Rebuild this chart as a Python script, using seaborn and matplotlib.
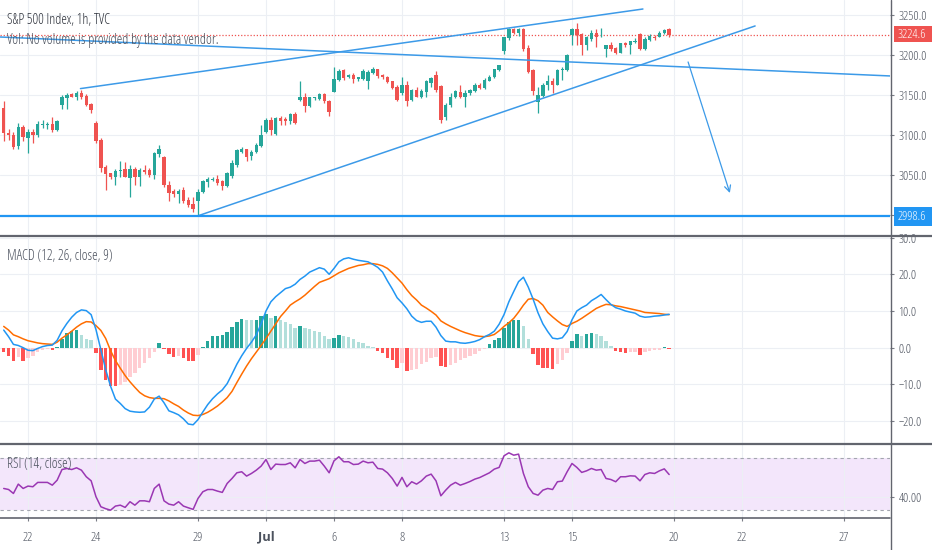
import numpy as np
import matplotlib
matplotlib.use("Agg")
import matplotlib.pyplot as plt
from matplotlib import font_manager as fm
import seaborn as sns
from matplotlib.patches import Rectangle
from matplotlib.lines import Line2D

# ---------------- data (hourly bars, index 0 = last bars of Jun 19) ----------------
opens = [3134, 3103, 3100, 3086, 3110, 3096, 3104, 3100, 3113, 3113,
         3114, 3106, 3137, 3146, 3151, 3147, 3153, 3149, 3139, 3115,
         3094, 3060, 3052, 3048, 3055, 3057, 3046, 3058, 3048, 3056,
         3056, 3050, 3076, 3073, 3038, 3030, 3026, 3031, 3019, 3014,
         3017, 3029, 3041, 3044, 3045, 3042, 3036, 3049, 3063, 3079,
         3082, 3074, 3079, 3086, 3104, 3119, 3101, 3121, 3120, 3117,
         3126, 3144, 3147, 3136, 3146, 3145, 3151, 3143, 3154, 3169,
         3181, 3172, 3175, 3170, 3170, 3167, 3178, 3182, 3175, 3173,
         3167, 3160, 3152, 3162, 3144, 3156, 3148, 3154, 3165, 3175,
         3161, 3123, 3138, 3147, 3154, 3148, 3152, 3155, 3162, 3159,
         3167, 3172, 3181, 3205, 3221, 3232, 3227, 3232, 3209, 3181,
         3141, 3149, 3162, 3167, 3162, 3181, 3181, 3225, 3233, 3226,
         3213, 3220, 3228, 3227, 3208, 3212, 3209, 3203, 3215, 3212,
         3216, 3226, 3208, 3219, 3223, 3223, 3228, 3232]
highs = [3142, 3108, 3104, 3115, 3113, 3107, 3107, 3117, 3119, 3116,
         3122, 3119, 3150, 3152, 3152, 3155, 3156, 3151, 3140, 3117,
         3096, 3063, 3053, 3057, 3067, 3066, 3062, 3060, 3059, 3062,
         3059, 3079, 3087, 3074, 3042, 3033, 3033, 3035, 3022, 3023,
         3033, 3044, 3047, 3048, 3050, 3044, 3054, 3069, 3083, 3085,
         3083, 3081, 3090, 3113, 3121, 3123, 3123, 3124, 3123, 3128,
         3129, 3167, 3153, 3148, 3148, 3153, 3153, 3144, 3185, 3182,
         3183, 3176, 3177, 3173, 3182, 3181, 3185, 3183, 3176, 3174,
         3168, 3162, 3173, 3168, 3157, 3160, 3157, 3169, 3173, 3180,
         3162, 3140, 3152, 3156, 3163, 3156, 3158, 3165, 3165, 3171,
         3175, 3183, 3188, 3223, 3234, 3234, 3234, 3234, 3213, 3183,
         3160, 3165, 3175, 3171, 3183, 3185, 3201, 3234, 3240, 3227,
         3224, 3231, 3232, 3234, 3213, 3216, 3210, 3215, 3216, 3217.5,
         3221, 3227, 3222, 3226, 3225, 3230, 3232.5, 3234]
lows = [3092, 3094, 3082, 3082, 3092, 3078, 3090, 3097, 3109, 3108,
        3104, 3105, 3133, 3132, 3147, 3144, 3145, 3136, 3127, 3090,
        3054, 3031, 3045, 3037, 3048, 3047, 3023, 3037, 3036, 3051,
        3048, 3045, 3073, 3035, 3017, 3022, 3015, 3015, 3010, 3004,
        2998.6, 3027, 3035, 3042, 3038, 3031, 3035, 3046, 3060, 3077,
        3067, 3069, 3077, 3085, 3102, 3100, 3100, 3113, 3113, 3114,
        3114, 3143, 3129, 3135, 3144, 3144, 3140, 3124, 3154, 3167,
        3169, 3171, 3165, 3168, 3169, 3158, 3176, 3171, 3170, 3165,
        3157, 3142, 3150, 3136, 3143, 3147, 3146, 3148, 3160, 3154,
        3115, 3119, 3135, 3146, 3146, 3135, 3150, 3154, 3157, 3157,
        3167, 3171, 3180, 3201, 3219, 3226, 3224, 3205, 3177, 3150,
        3127, 3148, 3156, 3153, 3162, 3169, 3180, 3213, 3213, 3200,
        3206, 3217, 3210, 3223, 3198, 3205, 3201, 3202, 3210, 3201,
        3215, 3206, 3206, 3218, 3219, 3222, 3226, 3223]
closes = [3102, 3100, 3085, 3110, 3097, 3104, 3100, 3114, 3114, 3114,
          3106, 3118, 3147, 3150, 3148, 3153, 3148, 3137, 3131, 3092,
          3059, 3051, 3048, 3055, 3056, 3048, 3058, 3048, 3056, 3054,
          3050, 3077, 3083, 3037, 3028, 3026, 3030, 3017, 3012, 3007,
          3029, 3042, 3045, 3045, 3040, 3036, 3053, 3065, 3081, 3082,
          3073, 3079, 3088, 3100, 3119, 3106, 3121, 3117, 3117, 3126,
          3115, 3147, 3136, 3147, 3147, 3151, 3142, 3129, 3170, 3180,
          3171, 3175, 3170, 3172, 3180, 3179, 3182, 3174, 3173, 3166,
          3159, 3144, 3162, 3143, 3156, 3148, 3155, 3167, 3171, 3156,
          3119, 3138, 3148, 3155, 3148, 3153, 3156, 3163, 3159, 3169,
          3173, 3182, 3187, 3222, 3232, 3228, 3232, 3207, 3179, 3155,
          3150, 3162, 3167, 3162, 3181, 3182, 3200, 3233, 3225, 3213,
          3222, 3228, 3223, 3228, 3212, 3208, 3203, 3215, 3213, 3217,
          3217, 3208, 3220, 3224, 3221, 3228, 3231, 3224.6]

macd_line = [4.8, 3.0, 0.9, 0.6, 0.0, -0.7, -0.8, -0.2, 0.3, 0.6,
             0.7, 2.0, 4.6, 6.6, 8.3, 9.6, 10.3, 10.1, 9.0, 4.9,
             -0.5, -6.0, -10.5, -14.0, -15.2, -16.6, -17.3, -17.5, -17.6, -17.5,
             -16.2, -14.0, -13.2, -15.0, -17.2, -17.7, -18.3, -19.4, -20.8, -21.0,
             -19.6, -17.5, -15.5, -13.9, -12.6, -11.5, -9.8, -7.2, -4.5, -2.2,
             -0.2, 1.5, 3.5, 6.5, 10.0, 12.5, 13.9, 15.0, 16.1, 16.5,
             17.3, 18.6, 19.5, 20.6, 21.2, 21.8, 21.4, 20.0, 21.6, 23.4,
             24.2, 24.5, 24.1, 23.8, 23.6, 23.4, 22.7, 21.9, 20.6, 18.2,
             16.0, 13.6, 12.2, 10.6, 8.6, 7.4, 6.9, 7.2, 7.2, 5.6,
             3.3, 1.8, 1.6, 1.6, 1.3, 1.2, 1.4, 1.7, 2.2, 3.0,
             3.6, 4.5, 6.4, 9.0, 12.5, 15.3, 18.0, 19.2, 16.5, 13.2,
             9.5, 6.5, 4.4, 2.6, 2.4, 2.7, 4.4, 7.6, 10.0, 10.9,
             11.6, 12.8, 13.6, 14.5, 13.1, 11.8, 10.9, 10.5, 10.0, 9.7,
             9.4, 8.6, 8.3, 8.4, 8.6, 8.7, 8.9, 9.1]
signal_line = [5.8, 4.8, 3.5, 3.0, 2.4, 1.9, 1.6, 1.3, 1.1, 1.0,
               0.9, 1.5, 2.6, 3.5, 4.5, 5.6, 6.5, 7.1, 7.0, 6.0,
               4.7, 2.5, -0.8, -3.5, -5.6, -7.6, -9.3, -10.8, -12.2, -13.1,
               -13.6, -13.8, -13.8, -13.9, -14.5, -15.3, -16.0, -17.0, -17.8, -18.4,
               -18.5, -18.2, -17.6, -16.8, -15.9, -14.8, -13.6, -11.9, -9.5, -7.2,
               -5.0, -3.0, -1.2, 0.6, 2.5, 4.5, 6.5, 8.5, 10.0, 11.6,
               12.5, 13.3, 14.3, 15.5, 16.7, 17.8, 18.3, 18.8, 19.6, 20.4,
               21.0, 21.6, 22.0, 22.4, 22.6, 22.9, 22.9, 22.7, 22.3, 21.6,
               20.4, 19.0, 17.6, 15.8, 14.2, 13.0, 11.6, 10.8, 9.9, 8.9,
               7.3, 6.5, 5.8, 5.2, 4.6, 4.1, 3.7, 3.3, 3.1, 3.0,
               3.2, 3.6, 4.6, 5.8, 6.8, 8.0, 9.7, 11.6, 13.2, 13.4,
               12.8, 11.6, 9.6, 8.4, 7.3, 6.3, 5.8, 6.6, 7.2, 8.0,
               8.9, 9.8, 10.7, 11.3, 11.8, 11.7, 11.4, 11.2, 10.9, 10.6,
               10.3, 10.0, 9.6, 9.5, 9.4, 9.3, 9.1, 9.0]
macd_hist = [-1.1, -2.2, -3.6, -2.5, -3.5, -2.9, -2.2, -1.3, -0.6, -0.4,
             -0.6, 0.3, 2.5, 3.9, 4.5, 4.8, 3.5, 2.5, 2.1, -1.5,
             -6.1, -8.8, -10.4, -10.5, -10.2, -9.3, -7.9, -7.0, -5.6, -4.3,
             -2.9, -1.1, 1.3, -0.4, -1.8, -2.5, -2.3, -2.9, -3.5, -3.6,
             -2.0, 0.3, 1.8, 3.2, 3.3, 3.4, 4.4, 5.7, 6.9, 7.7,
             7.5, 7.5, 7.6, 8.5, 9.1, 8.2, 8.5, 7.5, 6.9, 6.4,
             5.5, 6.0, 5.3, 5.1, 4.5, 4.2, 3.3, 2.5, 2.7, 3.5,
             3.3, 2.9, 2.4, 1.5, 1.2, 0.5, 0.3, -0.9, -1.5, -2.7,
             -3.4, -5.5, -4.3, -6.4, -6.1, -5.8, -4.5, -3.8, -2.9, -2.5,
             -4.9, -5.2, -4.6, -4.2, -3.4, -2.9, -2.2, -1.6, -0.9, -0.4,
             0.9, 2.1, 2.7, 5.3, 7.1, 7.5, 7.6, 6.0, 2.5, -1.8,
             -4.7, -5.5, -5.6, -5.8, -4.5, -3.4, -1.5, 1.8, 3.6, 3.3,
             3.6, 3.9, 3.6, 3.2, 1.8, 0.5, -0.9, -1.1, -1.4, -1.3,
             -1.2, -2.0, -1.1, -0.9, -0.6, -0.5, 0.2, -0.4]
rsi_values = [46.7, 45.9, 42.9, 50.0, 46.7, 48.5, 48.0, 51.3, 51.3, 51.3,
              49.2, 53.0, 61.1, 61.9, 61.1, 62.4, 60.6, 55.6, 52.5, 40.4,
              32.8, 31.3, 30.2, 33.3, 34.0, 32.3, 36.6, 34.0, 37.3, 37.3,
              36.6, 46.7, 50.0, 37.3, 34.8, 34.0, 36.6, 33.3, 32.0, 30.8,
              39.1, 44.2, 45.9, 45.9, 44.7, 43.7, 50.5, 54.3, 58.6, 59.4,
              56.1, 58.1, 60.6, 63.7, 68.7, 61.1, 65.2, 64.9, 64.9, 66.2,
              62.4, 68.7, 65.7, 67.5, 67.5, 68.2, 63.7, 58.6, 67.7, 70.8,
              67.0, 67.0, 64.9, 65.2, 67.5, 66.2, 66.7, 61.9, 61.4, 58.6,
              54.3, 48.5, 55.1, 48.0, 51.8, 50.0, 52.5, 56.1, 57.6, 52.5,
              41.1, 45.4, 49.2, 51.3, 49.2, 50.5, 52.0, 53.8, 55.0, 56.8,
              58.6, 61.4, 62.7, 71.5, 73.8, 72.0, 72.8, 58.1, 48.0, 42.9,
              41.6, 45.4, 46.7, 45.9, 51.8, 52.3, 59.4, 65.7, 62.7, 58.9,
              60.1, 61.9, 60.6, 61.1, 54.3, 53.5, 51.8, 55.6, 55.6, 56.3,
              56.1, 52.5, 57.3, 58.6, 58.1, 60.1, 61.6, 57.3]

day_ticks = [5, 19, 40, 54, 68, 82, 103, 117, 138, 152, 173]
day_labels = ["22", "24", "29", "Jul", "6", "8", "13", "15", "20", "22", "27"]
price_ticks = [3000, 3050, 3100, 3150, 3200, 3250]
macd_ticks = [30, 20, 10, 0, -10, -20]
rsi_ticks = [40]
last_price = 3224.6
support_level = 2998.6

# drawings (bar index, price)
upper_channel = [(15.8, 3158.0), (131.6, 3257.5)]
lower_channel = [(39.8, 2998.6), (154.7, 3236.3)]
falling_line = [(-0.77, 3222.5), (182.5, 3173.8)]
forecast_arrow = [(140.9, 3191.3), (149.5, 3027.5)]

title_text = "S&P 500 Index, 1h, TVC"
vol_text = "Vol: No volume is provided by the data vendor."
macd_text = "MACD (12, 26, close, 9)"
rsi_text = "RSI (14, close)"

# ---------------- styling ----------------
sns.set_theme(style="white")

# choose the narrowest available sans family
_stretch_num = {"ultra-condensed": 100, "extra-condensed": 200, "condensed": 300,
                "semi-condensed": 400, "normal": 500}
_fams = {}
for f in fm.fontManager.ttflist:
    st = f.stretch
    if isinstance(st, str):
        st = _stretch_num.get(st, 500)
    _fams.setdefault(f.name, set()).add(st)
FONT = "Liberation Sans"
STRETCH = "normal"
if "Liberation Sans Narrow" in _fams:
    FONT = "Liberation Sans Narrow"
else:
    for fam in ("Noto Sans", "Open Sans", "Roboto Condensed", "Roboto", "DejaVu Sans"):
        if fam in _fams and any(s <= 300 for s in _fams[fam]):
            FONT = fam
            STRETCH = "condensed"
            break
        if fam == "Roboto Condensed" and fam in _fams:
            FONT = fam
            break
plt.rcParams["font.family"] = [FONT, "DejaVu Sans"]
plt.rcParams["font.stretch"] = STRETCH

GREEN = "#26a69a"
RED = "#ef5350"
BLUE = "#2196f3"
DRAW_BLUE = "#3c9ae8"
ORANGE = "#ff6d00"
PURPLE = "#9a37b3"
GRID = "#eceff4"
TXT = "#4c525e"
SEP = "#62656e"
NARROW = STRETCH == "condensed" or FONT != "Liberation Sans"
FS = 9.3 if NARROW else 7.8
FT = 10.2 if NARROW else 8.2

W, H = 932, 550
XL = (-0.765, 182.47)

fig = plt.figure(figsize=(W / 100, H / 100), dpi=100)
fig.patch.set_facecolor("white")


def rect(x0, y0, x1, y1):
    return [x0 / W, 1 - y1 / H, (x1 - x0) / W, (y1 - y0) / H]


ax_p = fig.add_axes(rect(0, 0, 890, 236))
ax_m = fig.add_axes(rect(0, 237, 890, 443))
ax_r = fig.add_axes(rect(0, 444, 890, 517))

k = np.arange(len(closes))
o = np.array(opens, float)
h = np.array(highs, float)
l = np.array(lows, float)
c = np.array(closes, float)

for ax in (ax_p, ax_m, ax_r):
    ax.set_xlim(*XL)
    ax.set_xticks(day_ticks)
    for s in ax.spines.values():
        s.set_visible(False)
    ax.grid(True, color=GRID, linewidth=0.8)
    ax.set_axisbelow(True)
    ax.tick_params(axis="y", which="both", left=False, right=True, labelleft=False,
                   labelright=True, length=3, width=0.8, color="#7a7d86",
                   labelsize=FS, labelcolor=TXT, pad=3)

ax_p.tick_params(axis="x", bottom=False, labelbottom=False)
ax_m.tick_params(axis="x", bottom=False, labelbottom=False)

# ---------------- price panel ----------------
ax_p.set_ylim(2973.75, 3268.75)
ax_p.set_yticks(price_ticks)
ax_p.set_yticklabels(["" if t == 3000 else f"{t:.1f}" for t in price_ticks])

up = c >= o
ccol = np.where(up, GREEN, RED)
ax_p.vlines(k, l, h, colors=ccol, linewidth=0.9, zorder=3)
body = np.maximum(np.abs(c - o), 0.9)
ax_p.bar(k, body, bottom=np.minimum(o, c), width=0.7, color=ccol, linewidth=0, zorder=4)

for seg in (upper_channel, lower_channel, falling_line):
    ax_p.plot([seg[0][0], seg[1][0]], [seg[0][1], seg[1][1]], color=DRAW_BLUE, lw=1.1, zorder=5)
ax_p.annotate("", xy=forecast_arrow[1], xytext=forecast_arrow[0],
              arrowprops=dict(arrowstyle="->", color=DRAW_BLUE, lw=0.9,
                              mutation_scale=11, shrinkA=0, shrinkB=0), zorder=5)
ax_p.axhline(support_level, color=BLUE, lw=1.6, zorder=5)
ax_p.axhline(last_price, color=RED, lw=0.9, ls=(0, (1, 1.5)), zorder=2)

# ---------------- MACD panel ----------------
ax_m.set_ylim(-25.97, 30.16)
ax_m.set_yticks(macd_ticks)
ax_m.set_yticklabels([f"{t:.1f}".replace("-", "\u2212") for t in macd_ticks])

hist = np.array(macd_hist, float)
hcol = []
for i, v in enumerate(hist):
    prev = hist[i - 1] if i > 0 else (v - 1 if v >= 0 else v + 1)
    if v >= 0:
        hcol.append("#26a69a" if v > prev else "#b2dfdb")
    else:
        hcol.append("#ff5252" if v < prev else "#ffcdd2")
ax_m.bar(k, hist, width=0.72, color=hcol, linewidth=0, zorder=2)
sns.lineplot(x=k, y=np.array(macd_line), ax=ax_m, color=BLUE, linewidth=1.1, zorder=4)
sns.lineplot(x=k, y=np.array(signal_line), ax=ax_m, color=ORANGE, linewidth=1.1, zorder=3)
ax_m.set_xlabel("")
ax_m.set_ylabel("")

# ---------------- RSI panel ----------------
ax_r.set_ylim(25.0, 80.5)
ax_r.set_yticks(rsi_ticks)
ax_r.set_yticklabels([f"{t:.2f}" for t in rsi_ticks])
ax_r.axhspan(30, 70, color="#f3e6fb", zorder=0, linewidth=0)
ax_r.axhline(70, color="#a3a6af", lw=0.8, ls=(0, (3, 3)), zorder=1)
ax_r.axhline(30, color="#a3a6af", lw=0.8, ls=(0, (3, 3)), zorder=1)
sns.lineplot(x=k, y=np.array(rsi_values), ax=ax_r, color=PURPLE, linewidth=1.1, zorder=4)
ax_r.set_xlabel("")
ax_r.set_ylabel("")
ax_r.set_xticks(day_ticks)
ax_r.set_xticklabels(day_labels)
ax_r.tick_params(axis="x", bottom=True, labelbottom=True, length=3, width=0.8,
                 color="#7a7d86", labelsize=FS, labelcolor=TXT, pad=7, direction="out")
for lab in ax_r.get_xticklabels():
    if lab.get_text() == "Jul":
        lab.set_fontweight("bold")

# ---------------- figure decorations ----------------
def fline(x0, y0, x1, y1, **kw):
    fig.add_artist(Line2D([x0 / W, x1 / W], [1 - y0 / H, 1 - y1 / H],
                          transform=fig.transFigure, **kw))


fline(0, 236.5, W, 236.5, color=SEP, lw=1.6, zorder=10)
fline(0, 443.5, W, 443.5, color=SEP, lw=1.6, zorder=10)
fline(0, 517.5, 890, 517.5, color=SEP, lw=1.2, zorder=10)
fline(890.5, 0, 890.5, H, color=SEP, lw=1.0, zorder=10)


def price_box(y0, y1, text, color):
    fig.add_artist(Rectangle((894 / W, 1 - y1 / H), (W - 894) / W, (y1 - y0) / H,
                             transform=fig.transFigure, facecolor=color,
                             edgecolor="none", zorder=11))
    fig.text(912 / W, 1 - (y0 + y1) / 2 / H, text, color="white", fontsize=FS,
             ha="center", va="center", zorder=12)


price_box(26, 42, f"{last_price:.1f}", RED)
price_box(207, 226, f"{support_level:.1f}", BLUE)

fig.text(7 / W, 1 - 20 / H, title_text, fontsize=FT, color="#2f333c",
         ha="left", va="center", zorder=12)
fig.text(7 / W, 1 - 40 / H, vol_text, fontsize=FT, color=TXT,
         ha="left", va="center", zorder=12)
fig.text(7 / W, 1 - 257 / H, macd_text, fontsize=FT, color=TXT,
         ha="left", va="center", zorder=12)
fig.text(7 / W, 1 - 464 / H, rsi_text, fontsize=FT, color=TXT,
         ha="left", va="center", zorder=12)

fig.savefig("out.png", dpi=100, facecolor="white")
